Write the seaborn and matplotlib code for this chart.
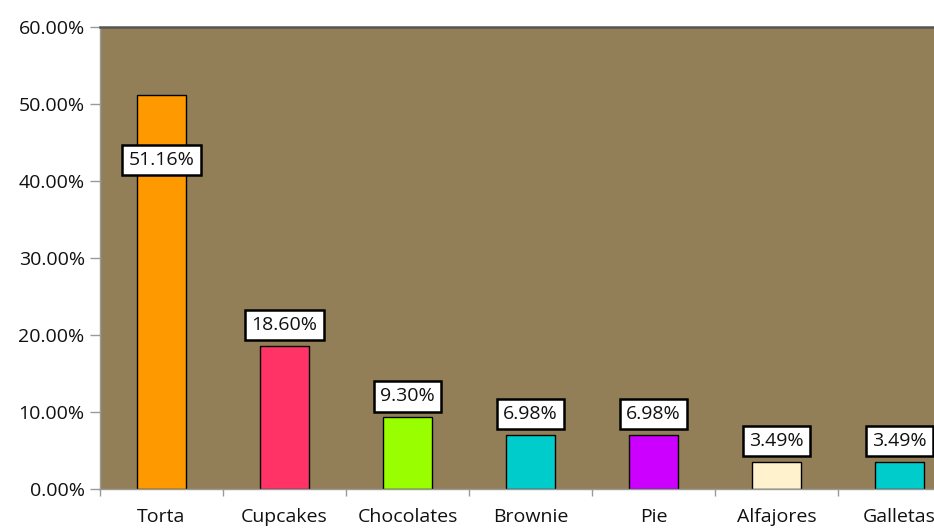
import matplotlib
matplotlib.use("Agg")
import matplotlib.pyplot as plt
import seaborn as sns
import pandas as pd
from matplotlib.ticker import FuncFormatter

categories = ["Torta", "Cupcakes", "Chocolates", "Brownie", "Pie", "Alfajores", "Galletas"]
values = [51.16, 18.60, 9.30, 6.98, 6.98, 3.49, 3.49]
bar_colors = ["#FF9900", "#FF3366", "#99FF00", "#00CCCC", "#CC00FF", "#FFF2CC", "#00CCCC"]
y_ticks = [0, 10, 20, 30, 40, 50, 60]

df = pd.DataFrame({"categoria": categories, "pct": values})

sns.set_theme(style="white")
plt.rcParams["font.family"] = ["Open Sans", "DejaVu Sans"]

fig = plt.figure(figsize=(9.34, 5.29), dpi=100)
ax = fig.add_axes([100 / 934, 1 - 489 / 529, 861 / 934, 462 / 529])
ax.set_facecolor("#937F57")

sns.barplot(data=df, x="categoria", y="pct", hue="categoria", palette=bar_colors,
            saturation=1, legend=False, width=0.4, edgecolor="black", linewidth=1.0, ax=ax)

ax.set_ylim(0, 60)
ax.set_xlim(-0.5, len(categories) - 0.5)
ax.set_yticks(y_ticks)
ax.yaxis.set_major_formatter(FuncFormatter(lambda v, _: f"{v:.2f}%"))
ax.set_xticks(range(len(categories)))
ax.set_xticklabels(categories)
ax.set_xticks([i - 0.5 for i in range(len(categories) + 1)], minor=True)
ax.tick_params(axis="x", which="major", length=0, pad=14, labelsize=14, colors="#111111")
ax.tick_params(axis="x", which="minor", length=5, width=1, color="#999999", direction="out", bottom=True)
ax.tick_params(axis="y", length=7, width=1, color="#999999", direction="out", left=True,
               labelsize=14, labelcolor="#111111", pad=4)
ax.set_xlabel("")
ax.set_ylabel("")

for side in ["left", "bottom"]:
    ax.spines[side].set_color("#999999")
    ax.spines[side].set_linewidth(1)
ax.spines["top"].set_visible(True)
ax.spines["top"].set_color("#555555")
ax.spines["top"].set_linewidth(1.8)
ax.spines["right"].set_visible(False)

# value labels in boxed callouts above each bar (inside the tallest one)
for i, v in enumerate(values):
    offset = -65 if v > 40 else 21
    ax.annotate(f"{v:.2f}%", xy=(i, v), xytext=(0, offset), textcoords="offset pixels",
                ha="center", va="center", fontsize=14, color="#111111",
                bbox=dict(boxstyle="square,pad=0.32", facecolor="white", edgecolor="black", linewidth=1.8))

fig.savefig("out.png", dpi=100)
